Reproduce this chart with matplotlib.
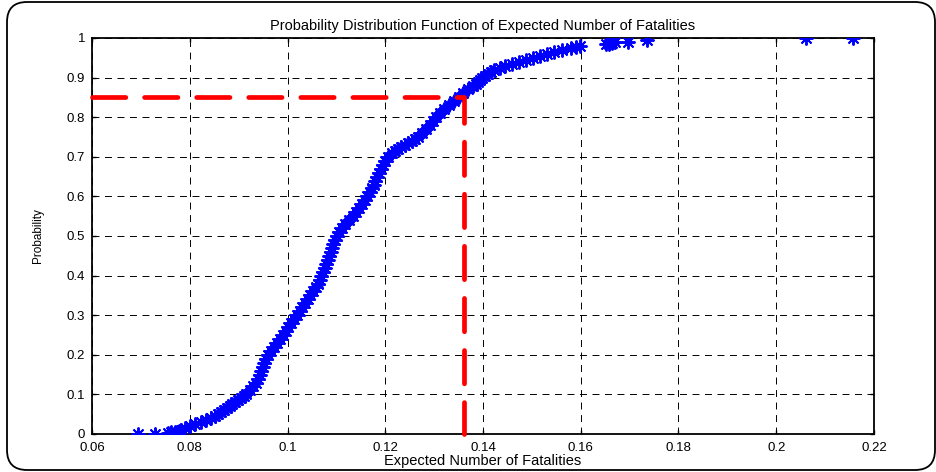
import matplotlib
matplotlib.use("Agg")
import matplotlib.pyplot as plt
from matplotlib.patches import FancyBboxPatch
from matplotlib.ticker import FuncFormatter

# sorted simulated values (x) and their cumulative probability (y)
fatalities = [
    0.0694, 0.0729, 0.0756, 0.0762, 0.0775, 0.0770, 0.0778,
    0.0782, 0.0791, 0.0800, 0.0811, 0.0822, 0.0833, 0.0843, 0.0851, 0.0858, 0.0864,
    0.0870, 0.0876, 0.0882, 0.0887, 0.0892, 0.0898, 0.0904, 0.0910, 0.0916,
    0.0924, 0.0930, 0.0935, 0.0939, 0.0943, 0.0946, 0.0949, 0.0952, 0.0956, 0.0961,
    0.0966, 0.0972, 0.0978, 0.0984, 0.0990, 0.0996, 0.1002, 0.1008, 0.1014, 0.1020,
    0.1025, 0.1030, 0.1035, 0.1041, 0.1047, 0.1053, 0.1058, 0.1062, 0.1066, 0.1069,
    0.1073, 0.1076, 0.1079, 0.1082, 0.1085, 0.1088, 0.1091, 0.1094, 0.1097, 0.1101,
    0.1106, 0.1111, 0.1118, 0.1126, 0.1134, 0.1141, 0.1147, 0.1153, 0.1158, 0.1163,
    0.1168, 0.1172, 0.1176, 0.1180, 0.1184, 0.1188, 0.1192, 0.1196, 0.1200, 0.1205,
    0.1214, 0.1220, 0.1226, 0.1233, 0.1240, 0.1247, 0.1254, 0.1260, 0.1266,
    0.1276, 0.1284, 0.1291, 0.1297, 0.1303,
    0.1311, 0.1320, 0.1330, 0.1340, 0.1350, 0.1360, 0.1370, 0.1380, 0.1385, 0.1389,
    0.1393, 0.1398, 0.1404, 0.1410, 0.1416, 0.1422, 0.1434, 0.1446, 0.1460, 0.1474,
    0.1488, 0.1503, 0.1517, 0.1531, 0.1546, 0.1562, 0.1580, 0.1590, 0.1598,
    0.1652, 0.1658, 0.1664, 0.1670, 0.1697, 0.1736, 0.2061, 0.2157,
]
probability = [
    0.000, 0.001, 0.003, 0.004, 0.005, 0.006, 0.008,
    0.010, 0.015, 0.020, 0.025, 0.030, 0.035, 0.040, 0.045, 0.050, 0.055,
    0.060, 0.065, 0.070, 0.075, 0.080, 0.085, 0.090, 0.095, 0.100,
    0.11, 0.12, 0.13, 0.14, 0.15, 0.16, 0.17, 0.18, 0.19, 0.20,
    0.21, 0.22, 0.23, 0.24, 0.25, 0.26, 0.27, 0.28, 0.29, 0.30,
    0.31, 0.32, 0.33, 0.34, 0.35, 0.36, 0.37, 0.38, 0.39, 0.40,
    0.41, 0.42, 0.43, 0.44, 0.45, 0.46, 0.47, 0.48, 0.49, 0.50,
    0.51, 0.52, 0.53, 0.54, 0.55, 0.56, 0.57, 0.58, 0.59, 0.60,
    0.61, 0.62, 0.63, 0.64, 0.65, 0.66, 0.67, 0.68, 0.69, 0.70,
    0.710, 0.715, 0.720, 0.725, 0.730, 0.735, 0.740, 0.745, 0.750,
    0.76, 0.77, 0.78, 0.79, 0.80,
    0.81, 0.82, 0.83, 0.84, 0.85, 0.86, 0.87, 0.880, 0.885, 0.890,
    0.895, 0.900, 0.905, 0.910, 0.915, 0.920, 0.925, 0.930, 0.935, 0.940,
    0.945, 0.950, 0.955, 0.960, 0.965, 0.970, 0.975, 0.978, 0.980,
    0.984, 0.986, 0.988, 0.990, 0.991, 0.995, 0.999, 1.000,
]

# 85th percentile marker
p_level = 0.85
x_level = 0.1361

x_ticks = [0.06, 0.08, 0.10, 0.12, 0.14, 0.16, 0.18, 0.20, 0.22]
y_ticks = [0, 0.1, 0.2, 0.3, 0.4, 0.5, 0.6, 0.7, 0.8, 0.9, 1.0]

plt.rcParams["font.family"] = ["Liberation Sans", "DejaVu Sans"]
plt.rcParams["lines.scale_dashes"] = False

fig = plt.figure(figsize=(9.37, 4.72), dpi=100)
ax = fig.add_axes([92 / 937, 38 / 472, 782 / 937, 396 / 472])

ax.plot(fatalities, probability, ls="none", marker=(8, 2, 0), ms=10, mew=1.4,
        color="blue", zorder=3)
ax.plot([0.06, x_level, x_level], [p_level, p_level, 0], color="red", lw=3.4,
        dashes=(24, 13.5), solid_capstyle="round", dash_capstyle="round",
        zorder=4, clip_on=False)

ax.set_xlim(0.06, 0.22)
ax.set_ylim(0, 1)
ax.set_xticks(x_ticks)
ax.set_yticks(y_ticks)
ax.xaxis.set_major_formatter(FuncFormatter(lambda v, _: "%g" % round(v, 2)))
ax.yaxis.set_major_formatter(FuncFormatter(lambda v, _: "%g" % round(v, 1)))
ax.tick_params(direction="in", length=3, width=1, top=True, right=True,
               labelsize=9.5)
ax.tick_params(axis="x", pad=5.5)
ax.tick_params(axis="y", pad=5)
ax.grid(True, color="k", lw=0.7, dashes=(5, 4))
for s in ax.spines.values():
    s.set_linewidth(1.3)

ax.set_title("Probability Distribution Function of Expected Number of Fatalities",
             fontsize=10.5, pad=6)
ax.set_xlabel("Expected Number of Fatalities", fontsize=10.5, labelpad=0.5)
ax.set_ylabel("Probability", fontsize=8.5, labelpad=16)

frame = FancyBboxPatch((0.07, 0.02), 9.28, 4.68, boxstyle="round,pad=0,rounding_size=0.2",
                       transform=fig.dpi_scale_trans, fill=False, ec="k", lw=1.3)
fig.patches.append(frame)

fig.savefig("out.png", dpi=100)
